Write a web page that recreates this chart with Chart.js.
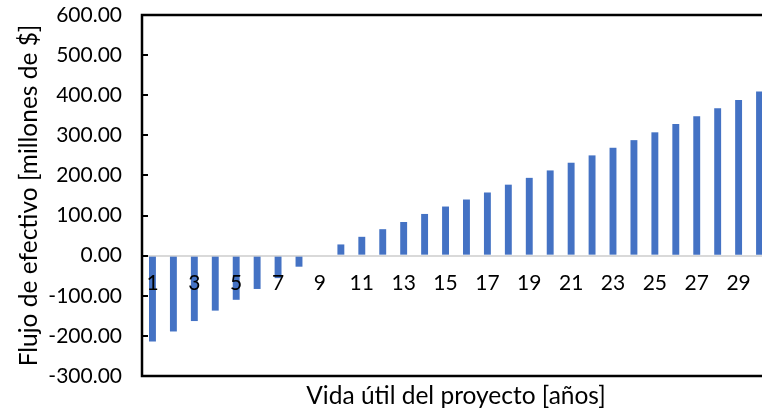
<!DOCTYPE html>
<html>
<head>
<meta charset="utf-8">
<script src="https://cdn.jsdelivr.net/npm/chart.js@4/dist/chart.umd.min.js"></script>
<style>
  html, body { margin: 0; padding: 0; background: #fff; overflow: hidden; }
  #wrap { width: 762px; height: 410px; overflow: hidden; position: relative; }
  canvas { display: block; }
</style>
</head>
<body>
<div id="wrap"><canvas id="c" width="770" height="410"></canvas></div>
<script>
// Años de vida útil del proyecto
const years = Array.from({ length: 30 }, (_, i) => String(i + 1));
// Flujo de efectivo anual [millones de $]
const cashFlow = [
  -214, -189, -163, -137, -110, -83, -56, -27.5, 0, 28,
  47, 66, 84, 104, 122.5, 140, 157.5, 177, 194, 212.5,
  231.7, 250, 269, 288, 307.5, 328, 347.5, 367.5, 388, 409
];
// Marcas del eje vertical
const yMin = -300, yMax = 600, yStep = 100;

const FONT = 'Lato, "Open Sans", sans-serif';
const TICK_FS = 21;
const TITLE_FS = 24.5;

// Las etiquetas no deben reservar margen extra alrededor del área de trazado
function noPadding(s) {
  s.paddingTop = 0;
  s.paddingBottom = 0;
  s.paddingLeft = 0;
  s.paddingRight = 0;
}

// Marco negro alrededor del área de trazado
const frame = {
  id: 'frame',
  afterDraw(chart) {
    const { ctx, chartArea: a } = chart;
    ctx.save();
    ctx.strokeStyle = '#000';
    ctx.lineWidth = 2.5;
    ctx.beginPath();
    ctx.moveTo(a.right + 2, a.top);
    ctx.lineTo(a.left, a.top);
    ctx.lineTo(a.left, a.bottom);
    ctx.lineTo(a.right + 2, a.bottom);
    ctx.stroke();
    ctx.restore();
  }
};

new Chart(document.getElementById('c'), {
  type: 'bar',
  data: {
    labels: years,
    datasets: [{
      data: cashFlow,
      backgroundColor: '#4472C4',
      borderWidth: 0,
      categoryPercentage: 1,
      barPercentage: 0.33
    }]
  },
  options: {
    responsive: false,
    animation: false,
    layout: { padding: { top: 15, left: 0, right: 0, bottom: 0 } },
    plugins: { legend: { display: false }, tooltip: { enabled: false } },
    scales: {
      x: {
        type: 'category',
        position: { y: 0 },
        grid: { display: false, drawTicks: false },
        border: { display: false },
        ticks: {
          z: 1,
          autoSkip: false,
          maxRotation: 0,
          padding: 15,
          color: '#000',
          font: { family: FONT, size: TICK_FS },
          callback: (v, i) => (i % 2 === 0 ? years[i] : '')
        },
        afterFit(s) { s.height = 0; noPadding(s); }
      },
      x2: {
        type: 'category',
        position: 'bottom',
        labels: years,
        grid: { display: false, drawTicks: false },
        border: { display: false },
        ticks: { display: false },
        title: {
          display: true,
          text: 'Vida útil del proyecto [años]',
          color: '#000',
          font: { family: FONT, size: TITLE_FS },
          padding: { top: 0, bottom: -1 }
        },
        afterFit(s) { s.height = 34; noPadding(s); }
      },
      y: {
        min: yMin,
        max: yMax,
        ticks: {
          stepSize: yStep,
          padding: 26,
          color: '#000',
          font: { family: FONT, size: TICK_FS },
          callback: v => v.toFixed(2)
        },
        grid: {
          drawOnChartArea: true,
          drawTicks: true,
          tickLength: -6,
          tickWidth: 2,
          tickColor: '#000',
          lineWidth: 2,
          color: c => (c.tick && c.tick.value === 0 ? '#d9d9d9' : 'rgba(0,0,0,0)')
        },
        border: { display: false },
        title: {
          display: true,
          text: 'Flujo de efectivo [millones de $]',
          color: '#000',
          font: { family: FONT, size: TITLE_FS },
          padding: { top: 14, bottom: 0 }
        },
        afterFit(s) { s.width = 142; noPadding(s); }
      }
    }
  },
  plugins: [frame]
});
</script>
</body>
</html>
